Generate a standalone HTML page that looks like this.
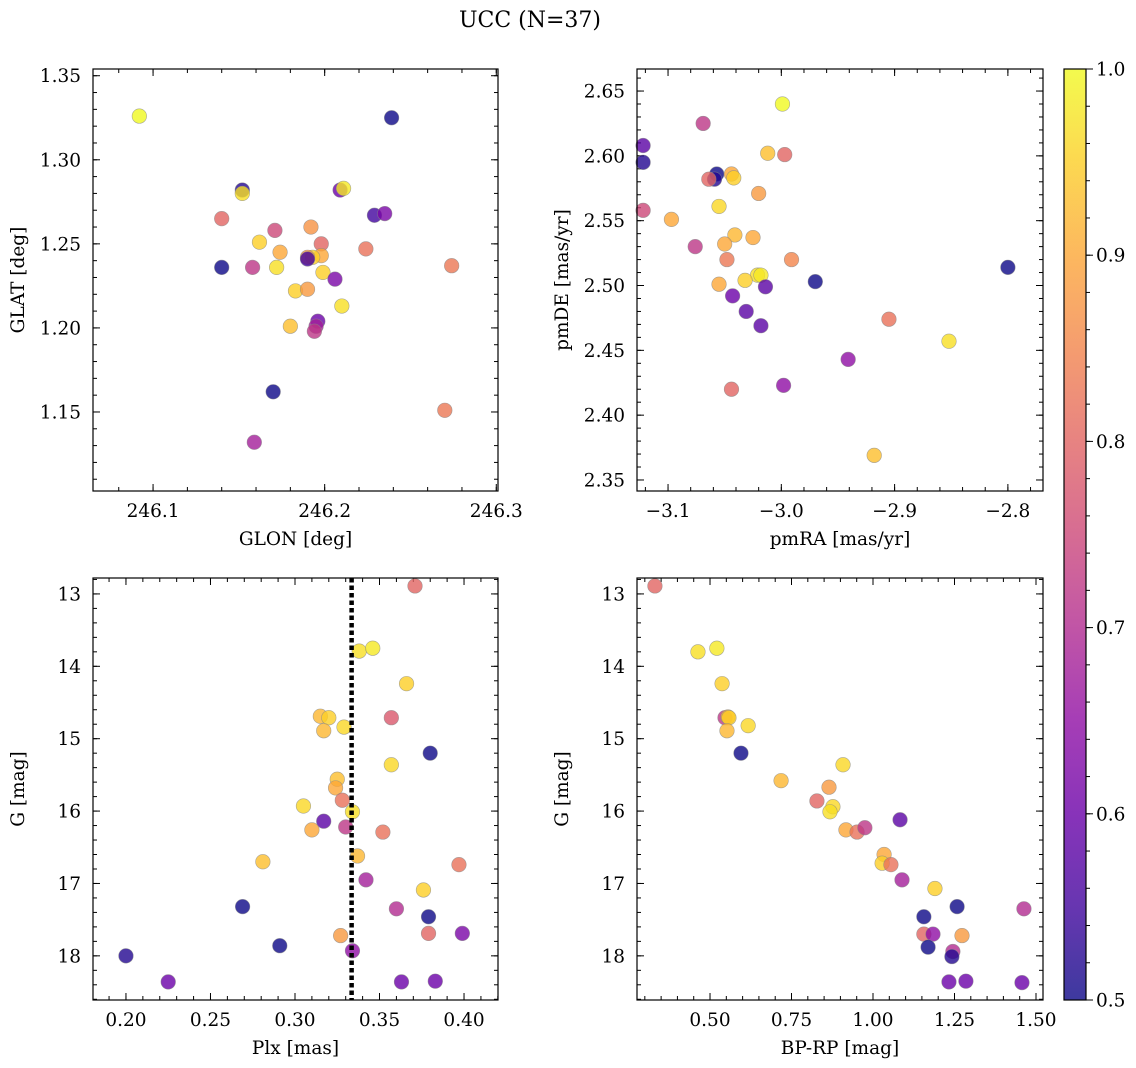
<!DOCTYPE html>
<html><head><meta charset="utf-8"><style>
html,body{margin:0;padding:0;background:#fff}
svg{display:block;font-family:"DejaVu Serif","Liberation Serif",serif}
</style></head><body>
<svg id="fig" width="1136" height="1068" viewBox="0 0 1136 1068">
<text x="530" y="27" text-anchor="middle" font-size="22">UCC (N=37)</text>
</svg>
<script>
// ---- data ----
const tlGlon=[246.092,246.239,246.152,246.152,246.209,246.211,246.140,246.171,246.192,246.162,246.174,246.229,246.235,246.198,246.198,246.193,246.190,246.190,246.224,246.274,246.140,246.158,246.172,246.199,246.206,246.183,246.190,246.210,246.180,246.196,246.195,246.194,246.270,246.170,246.159];
const tlGlat=[1.326,1.325,1.282,1.280,1.282,1.283,1.265,1.258,1.260,1.251,1.245,1.267,1.268,1.250,1.243,1.242,1.242,1.241,1.247,1.237,1.236,1.236,1.236,1.233,1.229,1.222,1.223,1.213,1.201,1.204,1.201,1.198,1.151,1.162,1.132];
const tlProb=[1.0,0.5,0.52,0.97,0.6,0.98,0.8,0.75,0.87,0.95,0.9,0.55,0.62,0.8,0.9,0.95,0.88,0.55,0.82,0.83,0.5,0.72,0.97,0.95,0.62,0.95,0.88,0.97,0.93,0.6,0.68,0.72,0.83,0.5,0.68];

const trPmra=[-3.122,-3.122,-3.069,-2.999,-3.012,-2.997,-3.057,-3.059,-3.064,-3.044,-3.042,-3.020,-3.122,-3.055,-3.097,-3.041,-3.025,-3.050,-3.076,-3.048,-2.991,-3.021,-3.018,-3.032,-2.970,-3.055,-3.014,-2.800,-3.043,-3.031,-3.018,-2.905,-2.852,-2.941,-2.998,-3.044,-2.918];
const trPmde=[2.608,2.595,2.625,2.640,2.602,2.601,2.586,2.582,2.582,2.586,2.583,2.571,2.558,2.561,2.551,2.539,2.537,2.532,2.530,2.520,2.520,2.508,2.508,2.504,2.503,2.501,2.499,2.514,2.492,2.480,2.469,2.474,2.457,2.443,2.423,2.420,2.369];
const trProb=[0.58,0.52,0.72,1.0,0.93,0.8,0.5,0.52,0.8,0.9,0.95,0.88,0.75,0.96,0.9,0.92,0.9,0.9,0.72,0.83,0.85,0.97,0.98,0.95,0.5,0.9,0.58,0.5,0.6,0.58,0.58,0.82,0.97,0.65,0.65,0.8,0.93];

const blPlx=[0.371,0.338,0.346,0.366,0.315,0.320,0.357,0.329,0.317,0.380,0.357,0.325,0.324,0.328,0.305,0.334,0.317,0.310,0.330,0.352,0.337,0.281,0.397,0.342,0.376,0.269,0.360,0.327,0.379,0.399,0.379,0.291,0.334,0.200,0.225,0.363,0.383];
const blG=[12.89,13.79,13.75,14.24,14.69,14.71,14.71,14.84,14.89,15.20,15.36,15.56,15.68,15.85,15.93,16.01,16.14,16.26,16.22,16.29,16.62,16.70,16.74,16.95,17.09,17.32,17.35,17.72,17.69,17.69,17.46,17.86,17.93,18.00,18.36,18.36,18.35];
const blProb=[0.8,0.97,0.98,0.95,0.92,0.95,0.78,0.96,0.92,0.5,0.96,0.93,0.9,0.82,0.96,0.97,0.58,0.9,0.72,0.82,0.92,0.93,0.82,0.68,0.95,0.5,0.7,0.88,0.8,0.62,0.5,0.5,0.65,0.52,0.6,0.6,0.6];
const plxLine=[0.3335];

const brBprp=[0.331,0.463,0.521,0.537,0.546,0.555,0.558,0.617,0.552,0.595,0.908,0.718,0.865,0.828,0.877,0.868,1.083,0.917,0.951,0.975,1.034,1.028,1.055,1.089,1.190,1.258,1.156,1.463,1.156,1.184,1.273,1.169,1.245,1.242,1.233,1.285,1.457];
const brG=[12.89,13.80,13.75,14.24,14.71,14.70,14.71,14.82,14.89,15.20,15.36,15.58,15.67,15.86,15.94,16.01,16.12,16.26,16.29,16.23,16.60,16.72,16.74,16.95,17.07,17.32,17.46,17.35,17.70,17.70,17.72,17.88,17.94,18.01,18.36,18.35,18.37];
const brProb=[0.8,0.97,0.98,0.95,0.72,0.92,0.95,0.96,0.92,0.5,0.96,0.92,0.88,0.8,0.96,0.97,0.58,0.9,0.82,0.72,0.9,0.95,0.82,0.68,0.95,0.5,0.5,0.7,0.8,0.65,0.88,0.5,0.7,0.52,0.6,0.6,0.6];

const tlXTicks=[246.1,246.2,246.3], tlYTicks=[1.15,1.20,1.25,1.30,1.35];
const trXTicks=[-3.1,-3.0,-2.9,-2.8], trYTicks=[2.35,2.40,2.45,2.50,2.55,2.60,2.65];
const blXTicks=[0.20,0.25,0.30,0.35,0.40], gTicks=[13,14,15,16,17,18];
const brXTicks=[0.50,0.75,1.00,1.25,1.50];
const cbTicks=[0.5,0.6,0.7,0.8,0.9,1.0];

const NS="http://www.w3.org/2000/svg";
const svg=document.getElementById('fig');
const FS=18.5;
function mk(tag,attrs,parent){const e=document.createElementNS(NS,tag);for(const k in attrs)e.setAttribute(k,attrs[k]);(parent||svg).appendChild(e);return e;}
const stops=[[13,8,135],[65,4,157],[106,0,168],[143,13,164],[177,42,144],[204,71,120],[225,100,98],[242,132,75],[252,166,54],[252,206,37],[240,249,33]];
function plasma(t){t=Math.max(0,Math.min(1,t));const p=t*10,i=Math.min(9,Math.floor(p)),f=p-i;const a=stops[i],b=stops[i+1];return 'rgb('+a.map((v,k)=>Math.round(v+(b[k]-v)*f)).join(',')+')';}
function cmap(v){return plasma((v-0.5)/0.5);}
function fmt(v,d){let s=v.toFixed(d);if(v<0)s='\u2212'+s.slice(1);return s;}

function panel(o){
  const g=mk('g',{});
  
  
  const sx=v=>o.x0+(v-o.xmin)/(o.xmax-o.xmin)*(o.x1-o.x0);
  const sy=o.inv? v=>o.y0+(v-o.ymin)/(o.ymax-o.ymin)*(o.y1-o.y0) : v=>o.y1-(v-o.ymin)/(o.ymax-o.ymin)*(o.y1-o.y0);
  const tg=mk('g',{stroke:'#000','stroke-width':1},g);
  function xt(v,len){const x=sx(v);if(x<o.x0-0.5||x>o.x1+0.5)return;mk('line',{x1:x,x2:x,y1:o.y1,y2:o.y1-len},tg);mk('line',{x1:x,x2:x,y1:o.y0,y2:o.y0+len},tg);}
  function yt(v,len){const y=sy(v);if(y<o.y0-0.5||y>o.y1+0.5)return;mk('line',{x1:o.x0,x2:o.x0+len,y1:y,y2:y},tg);mk('line',{x1:o.x1,x2:o.x1-len,y1:y,y2:y},tg);}
  const xlo=Math.min(o.xmin,o.xmax),xhi=Math.max(o.xmin,o.xmax);
  for(let v=Math.ceil(xlo/o.xminor-1e-6)*o.xminor;v<=xhi+1e-9;v+=o.xminor)xt(v,4);
  for(let v=Math.ceil(o.ymin/o.yminor-1e-6)*o.yminor;v<=o.ymax+1e-9;v+=o.yminor)yt(v,4);
  o.xticks.forEach(v=>{xt(v,7);const t=mk('text',{x:sx(v),y:o.y1+26,'text-anchor':'middle','font-size':FS},g);t.textContent=fmt(v,o.xd);});
  o.yticks.forEach(v=>{yt(v,7);const t=mk('text',{x:o.x0-12,y:sy(v)+6.5,'text-anchor':'end','font-size':FS},g);t.textContent=fmt(v,o.yd);});
  const xl=mk('text',{x:(o.x0+o.x1)/2,y:o.y1+54,'text-anchor':'middle','font-size':FS},g);xl.textContent=o.xlabel;
  
  const cy=(o.y0+o.y1)/2,lx=o.x0-69;
  const yl=mk('text',{x:lx,y:cy,'text-anchor':'middle','font-size':FS,transform:'rotate(-90 '+lx+' '+cy+')'},g);yl.textContent=o.ylabel;
  
  const pg=mk('g',{},g);
  o.xs.forEach((xv,i)=>{const c=mk('circle',{cx:sx(xv),cy:sy(o.ys[i]),r:7.3,fill:cmap(o.cs[i]),'fill-opacity':0.8,stroke:'#888','stroke-opacity':0.7,'stroke-width':0.6},pg);
    
    });
  if(o.vline){const l=mk('line',{x1:sx(o.vline[0]),x2:sx(o.vline[0]),y1:o.y0,y2:o.y1,stroke:'#000','stroke-width':4.5,'stroke-dasharray':'4.5 3'},g);
    }
  mk('rect',{x:o.x0,y:o.y0,width:o.x1-o.x0,height:o.y1-o.y0,fill:'none',stroke:'#000','stroke-width':1.2},g);
}
panel({name:'glon-glat-panel',x0:93,x1:498,y0:69,y1:491,xmin:246.065,xmax:246.301,ymin:1.103,ymax:1.354,xminor:0.02,yminor:0.01,xticks:tlXTicks,yticks:tlYTicks,xd:1,yd:2,xlabel:'GLON [deg]',ylabel:'GLAT [deg]',xs:tlGlon,ys:tlGlat,cs:tlProb});
panel({name:'proper-motion-panel',x0:637,x1:1043,y0:69,y1:491,xmin:-3.1274,xmax:-2.769,ymin:2.3415,ymax:2.667,xminor:0.02,yminor:0.01,xticks:trXTicks,yticks:trYTicks,xd:1,yd:2,xlabel:'pmRA [mas/yr]',ylabel:'pmDE [mas/yr]',xs:trPmra,ys:trPmde,cs:trProb});
panel({name:'parallax-mag-panel',x0:93,x1:498,y0:578,y1:1000,xmin:0.1805,xmax:0.4201,ymin:12.78,ymax:18.61,inv:true,xminor:0.01,yminor:0.2,xticks:blXTicks,yticks:gTicks,xd:2,yd:0,xlabel:'Plx [mas]',ylabel:'G [mag]',xs:blPlx,ys:blG,cs:blProb,vline:plxLine});
panel({name:'cmd-panel',x0:637,x1:1043,y0:578,y1:1000,xmin:0.276,xmax:1.5215,ymin:12.78,ymax:18.61,inv:true,xminor:0.05,yminor:0.2,xticks:brXTicks,yticks:gTicks,xd:2,yd:0,xlabel:'BP-RP [mag]',ylabel:'G [mag]',xs:brBprp,ys:brG,cs:brProb});

(function(){
  const g=mk('g',{});
  
  
  const x0=1064,x1=1086,y0=69,y1=1000;
  const defs=mk('defs',{},g);const lg=mk('linearGradient',{id:'cbg',x1:0,y1:1,x2:0,y2:0},defs);
  for(let i=0;i<=20;i++){mk('stop',{offset:i/20,'stop-color':plasma(i/20),'stop-opacity':0.8},lg);}
  mk('rect',{x:x0,y:y0,width:x1-x0,height:y1-y0,fill:'url(#cbg)'},g);
  const sy=v=>y1-(v-0.5)/0.5*(y1-y0);
  for(let v=0.5;v<=1.0001;v+=0.02)mk('line',{x1:x1,x2:x1+4,y1:sy(v),y2:sy(v),stroke:'#000'},g);
  cbTicks.forEach(v=>{mk('line',{x1:x1,x2:x1+7,y1:sy(v),y2:sy(v),stroke:'#000'},g);
    const t=mk('text',{x:x1+10,y:sy(v)+6.5,'font-size':FS},g);t.textContent=v.toFixed(1);
    });
  mk('rect',{x:x0,y:y0,width:x1-x0,height:y1-y0,fill:'none',stroke:'#000','stroke-width':1.2},g);
})();
</script>
</body></html>
